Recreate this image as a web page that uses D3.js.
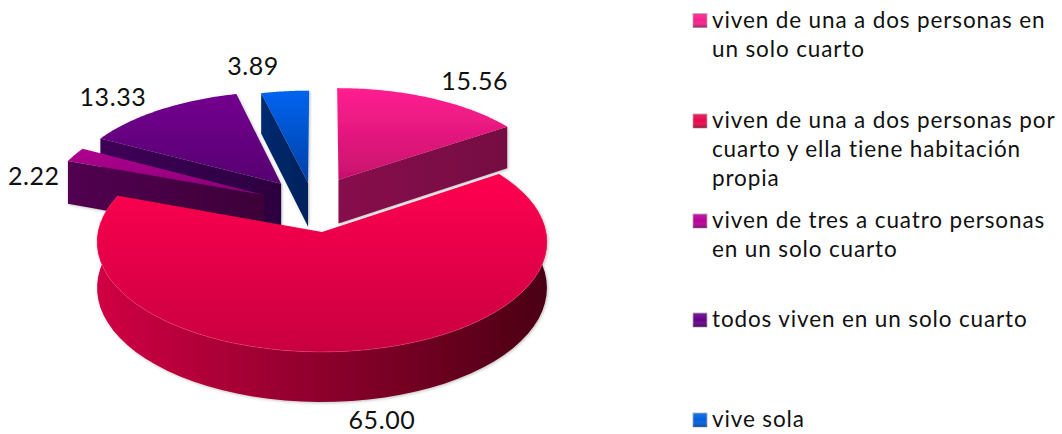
<!DOCTYPE html>
<html>
<head>
<meta charset="utf-8">
<script src="https://cdn.jsdelivr.net/npm/d3@7"></script>
<style>
  html, body { margin: 0; padding: 0; background: #fff; overflow: hidden; }
  text { font-family: "Lato", "Noto Sans", sans-serif; fill: #111; }
</style>
</head>
<body>
<svg id="chart" width="1062" height="434"></svg>
<script>
const categories = [
    "viven de una a dos personas en un solo cuarto",
    "viven de una a dos personas por cuarto y ella tiene habitación propia",
    "viven de tres a cuatro personas en un solo cuarto",
    "todos viven en un solo cuarto",
    "vive sola"
];
const values = [15.56, 65.00, 2.22, 13.33, 3.89];

// legend wrapping, one list per category
const legendLines = [
    ["viven de una a dos personas en", "un solo cuarto"],
    ["viven de una a dos personas por", "cuarto y ella tiene habitación", "propia"],
    ["viven de tres a cuatro personas", "en un solo cuarto"],
    ["todos viven en un solo cuarto"],
    ["vive sola"]
];

// look of each slice
const topColors = [["#ff2090", "#c8106c"], ["#ff0050", "#c80040"], ["#b0008f", "#8a0078"], ["#73008f", "#560070"], ["#0064ee", "#0040a8"]];
const wallColors = [["#870a4c", "#750a42"], ["#d00044", "#4a0014"], ["#520050", "#3c0038"], ["#3e0058", "#2c0040"], ["#002a70", "#00225c"]];
const legendColors = ["#f8208c", "#e8084c", "#b80098", "#640088", "#0060e0"];

// how far each slice is pulled out of the pie, in pie radii
const explode = [[0.077, 0.5], [0, 0], [-0.266, 0.35], [-0.19, 0.46], [-0.065, 0.47]];
// which radial wall faces the viewer
const radialWall = ["end", null, "start", "start", "start"];
// value label shift from the slice's outer midpoint
const labelNudge = [[44, -8], [30, 78], [-41, 30], [-47, -4], [-32, -16]];
const legendY = [27.5, 128, 228, 327, 427];

const svg = d3.select("#chart");
const defs = svg.append("defs");

const centerX = 322, centerY = 232;
const radiusX = 224, radiusY = 109, viewDist = 11, thickness = 45.5;

// perspective projection of a point on the pie plane, h is height below the top face
function project(u, v, h = 0) {
    const s = viewDist / (viewDist + v);
    return [centerX + radiusX * u * s, centerY - radiusY * v * s + h * s];
}

const pie = d3.pie().sort(null)(values);
const line = d3.line();

function rim(d, i, h) {
    const [ox, oy] = explode[i];
    return d3.range(0, 61).map(k => {
        const a = d.startAngle + (d.endAngle - d.startAngle) * k / 60;
        return project(ox + Math.sin(a), oy + Math.cos(a), h);
    });
}

function gradient(id, colors, x1, y1, x2, y2) {
    const g = defs.append("linearGradient").attr("id", id)
        .attr("x1", x1).attr("y1", y1).attr("x2", x2).attr("y2", y2);
    g.append("stop").attr("offset", "0%").attr("stop-color", colors[0]);
    g.append("stop").attr("offset", "100%").attr("stop-color", colors[1]);
}

topColors.forEach((c, i) => gradient(`top-${i}`, c, 0, 0, 0, 1));
wallColors.forEach((c, i) => gradient(`wall-${i}`, c, 0, 0, 1, 0));

const shadow = defs.append("filter").attr("id", "soft")
    .attr("x", "-5%").attr("y", "-5%").attr("width", "110%").attr("height", "110%");
shadow.append("feDropShadow")
    .attr("dx", 1).attr("dy", 1).attr("stdDeviation", 1.5)
    .attr("flood-color", "#000").attr("flood-opacity", 0.25);

const order = [3, 2, 4, 0, 1]; // back slices first, the big one on top

order.forEach(i => {
    const d = pie[i];
    const g = svg.append("g").attr("filter", "url(#soft)");
    const [ox, oy] = explode[i];
    const top = rim(d, i, 0);
    const bottom = rim(d, i, thickness);

    // outer wall only matters for the big slice, the others are seen from behind
    if (i === 1) {
        g.append("path")
            .attr("d", line(top.concat(bottom.slice().reverse())) + "Z")
            .attr("fill", `url(#wall-${i})`);
    }

    if (radialWall[i]) {
        const end = radialWall[i] === "start" ? 0 : top.length - 1;
        g.append("path")
            .attr("d", line([project(ox, oy), top[end], bottom[end], project(ox, oy, thickness)]) + "Z")
            .attr("fill", `url(#wall-${i})`);
    }

    g.append("path")
        .attr("d", line([project(ox, oy)].concat(top)) + "Z")
        .attr("fill", `url(#top-${i})`);

    if (i === 1) {
        g.append("path")
            .attr("d", line(top))
            .attr("fill", "none")
            .attr("stroke", "#ff4a80")
            .attr("stroke-opacity", 0.4);
    }
});

// value labels
const format = d3.format(".2f");
pie.forEach((d, i) => {
    const mid = (d.startAngle + d.endAngle) / 2;
    const [x, y] = project(explode[i][0] + Math.sin(mid), explode[i][1] + Math.cos(mid));
    svg.append("text")
        .attr("x", x + labelNudge[i][0])
        .attr("y", y + labelNudge[i][1])
        .attr("text-anchor", "middle")
        .style("font-size", "25px")
        .style("letter-spacing", "0.6px")
        .text(format(d.value));
});

// legend
const swatch = defs.append("linearGradient").attr("id", "swatch-shine")
    .attr("x1", 0).attr("y1", 0).attr("x2", 0).attr("y2", 1);
swatch.append("stop").attr("offset", "0%").attr("stop-color", "#fff").attr("stop-opacity", 0.12);
swatch.append("stop").attr("offset", "50%").attr("stop-color", "#fff").attr("stop-opacity", 0);
swatch.append("stop").attr("offset", "100%").attr("stop-color", "#000").attr("stop-opacity", 0.3);

const legend = svg.append("g");
categories.forEach((name, i) => {
    const y = legendY[i];
    const item = legend.append("g").attr("aria-label", name);
    item.append("rect")
        .attr("x", 693).attr("y", y - 14).attr("width", 14).attr("height", 14)
        .attr("fill", legendColors[i])
        .attr("stroke", "#aaa").attr("stroke-width", 0.8);
    item.append("rect")
        .attr("x", 693).attr("y", y - 14).attr("width", 14).attr("height", 14)
        .attr("fill", "url(#swatch-shine)");
    legendLines[i].forEach((t, k) => {
        item.append("text")
            .attr("x", 712)
            .attr("y", y + k * 29)
            .style("font-size", "22.5px")
            .style("letter-spacing", "0.87px")
            .text(t);
    });
});
</script>
</body>
</html>
